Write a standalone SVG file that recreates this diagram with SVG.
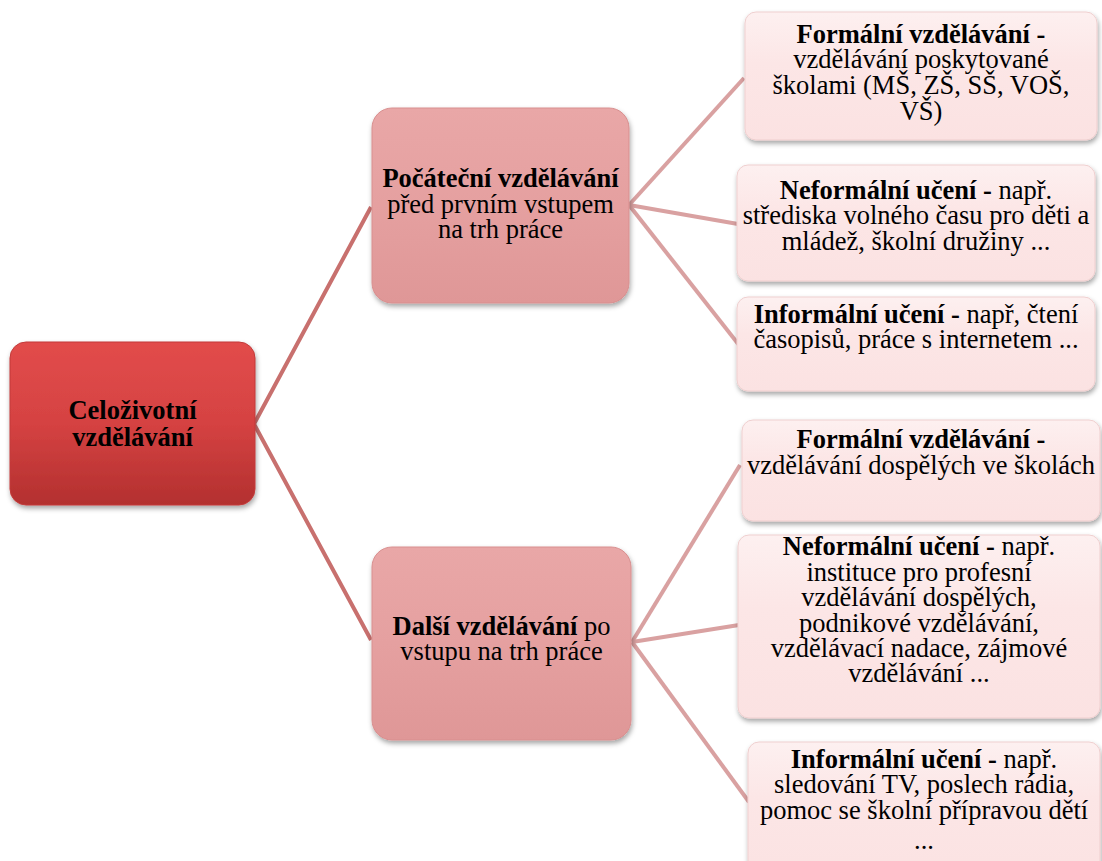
<svg xmlns="http://www.w3.org/2000/svg" width="1102" height="861" viewBox="0 0 1102 861">
<defs>
  <linearGradient id="gRoot" x1="0" y1="0" x2="0" y2="1">
    <stop offset="0" stop-color="#e24c4b"/>
    <stop offset="0.5" stop-color="#d54242"/>
    <stop offset="1" stop-color="#b3302f"/>
  </linearGradient>
  <linearGradient id="gMid" x1="0" y1="0" x2="0" y2="1">
    <stop offset="0" stop-color="#e9a7a7"/>
    <stop offset="0.5" stop-color="#e5a0a0"/>
    <stop offset="1" stop-color="#df9797"/>
  </linearGradient>
  <linearGradient id="gLeaf" x1="0" y1="0" x2="0" y2="1">
    <stop offset="0" stop-color="#fdf0f0"/>
    <stop offset="0.4" stop-color="#fce6e6"/>
    <stop offset="1" stop-color="#fbe2e2"/>
  </linearGradient>
  <filter id="shadow" x="-10%" y="-10%" width="120%" height="130%">
    <feDropShadow dx="1" dy="3" stdDeviation="2.5" flood-color="#000" flood-opacity="0.35"/>
  </filter>
</defs>
<style>
  text { font-family: "Liberation Serif", "Times New Roman", serif; font-size: 26.5px; fill: #000; text-anchor: middle; }
  .b { font-weight: bold; }
  .root { fill: url(#gRoot); stroke: #c23b3a; stroke-width: 1; filter: url(#shadow); }
  .mid { fill: url(#gMid); stroke: #d88f8f; stroke-width: 1; filter: url(#shadow); }
  .leaf { fill: url(#gLeaf); stroke: #efcfcf; stroke-width: 1; filter: url(#shadow); }
  .c1 { stroke: #c8706e; stroke-width: 4; fill: none; }
  .c2 { stroke: #d9a1a1; stroke-width: 4; fill: none; }
</style>
<rect width="1102" height="861" fill="#ffffff"/>

<g id="connectors">
  <polyline class="c1" points="371,207 254,424 371,640"/>
  <line class="c2" x1="629" y1="205" x2="744" y2="78"/>
  <line class="c2" x1="629" y1="205" x2="738" y2="224"/>
  <line class="c2" x1="629" y1="205" x2="739" y2="345"/>
  <line class="c2" x1="632" y1="642" x2="740" y2="465"/>
  <line class="c2" x1="632" y1="642" x2="739" y2="625"/>
  <line class="c2" x1="632" y1="642" x2="749" y2="802"/>
</g>

<g id="root">
  <rect class="root" x="10" y="342" width="245" height="163" rx="16"/>
  <text class="b"><tspan x="132.5" y="419">Celoživotní</tspan><tspan x="132.5" y="446">vzdělávání</tspan></text>
</g>

<g id="initial">
  <rect class="mid" x="372" y="108" width="257" height="195" rx="20"/>
  <text><tspan x="500.5" y="187" class="b">Počáteční vzdělávání</tspan><tspan x="500.5" y="213">před prvním vstupem</tspan><tspan x="500.5" y="238">na trh práce</tspan></text>
</g>

<g id="further">
  <rect class="mid" x="372" y="547" width="259" height="193" rx="20"/>
  <text><tspan x="501.5" y="635"><tspan class="b">Další vzdělávání</tspan> po</tspan><tspan x="501.5" y="660">vstupu na trh práce</tspan></text>
</g>

<g id="formal1">
  <rect class="leaf" x="745" y="12" width="352" height="128" rx="11"/>
  <text><tspan x="921" y="43" class="b">Formální vzdělávání -</tspan><tspan x="921" y="68">vzdělávání poskytované</tspan><tspan x="921" y="94">školami (MŠ, ZŠ, SŠ, VOŠ,</tspan><tspan x="921" y="120">VŠ)</tspan></text>
</g>

<g id="nonformal1">
  <rect class="leaf" x="737" y="165" width="358" height="116" rx="11"/>
  <text><tspan x="916" y="199"><tspan class="b">Neformální učení -</tspan> např.</tspan><tspan x="916" y="224">střediska volného času pro děti a</tspan><tspan x="916" y="250">mládež, školní družiny ...</tspan></text>
</g>

<g id="informal1">
  <rect class="leaf" x="737" y="297" width="358" height="94" rx="11"/>
  <text><tspan x="916" y="323"><tspan class="b">Informální učení -</tspan> např, čtení</tspan><tspan x="916" y="348">časopisů, práce s internetem ...</tspan></text>
</g>

<g id="formal2">
  <rect class="leaf" x="742" y="420" width="358" height="101" rx="11"/>
  <text><tspan x="921" y="448" class="b">Formální vzdělávání -</tspan><tspan x="921" y="474">vzdělávání dospělých ve školách</tspan></text>
</g>

<g id="nonformal2">
  <rect class="leaf" x="738" y="535" width="362" height="183" rx="11"/>
  <text><tspan x="919" y="555"><tspan class="b">Neformální učení -</tspan> např.</tspan><tspan x="919" y="581">instituce pro profesní</tspan><tspan x="919" y="606">vzdělávání dospělých,</tspan><tspan x="919" y="632">podnikové vzdělávání,</tspan><tspan x="919" y="657">vzdělávací nadace, zájmové</tspan><tspan x="919" y="682">vzdělávání ...</tspan></text>
</g>

<g id="informal2">
  <rect class="leaf" x="748" y="742" width="352" height="140" rx="11"/>
  <text><tspan x="924" y="768"><tspan class="b">Informální učení -</tspan> např.</tspan><tspan x="924" y="793">sledování TV, poslech rádia,</tspan><tspan x="924" y="819">pomoc se školní přípravou dětí</tspan><tspan x="924" y="849">...</tspan></text>
</g>
</svg>
